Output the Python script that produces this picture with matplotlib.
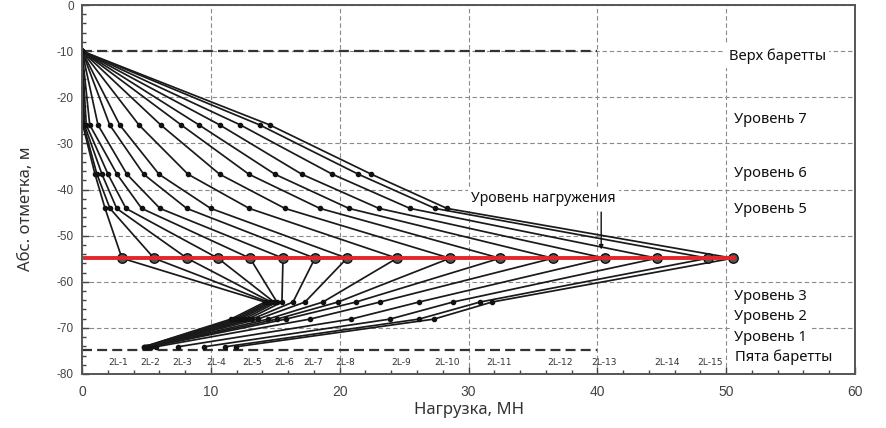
import matplotlib
matplotlib.use("Agg")
import matplotlib.pyplot as plt
from matplotlib.ticker import MultipleLocator

# ---------------- data ----------------
# elevations of the measuring levels (m): top, L7, L6, L5, load cell, L3, L2, L1
z_top = -10.0
z_l7 = -26.0
z_l6 = -36.7
z_l5 = -44.1
z_cell = -54.9
z_l3 = -64.4
z_l2 = -68.1
z_l1 = -74.1
z_toe = -74.8

# loads (MN) at each level for the 16 load steps
load_top = [0.0] * 16
load_l7 = [0.06, 0.12, 0.19, 0.33, 0.60, 1.24, 2.15, 2.93, 4.42, 6.11, 7.70, 9.08, 10.69, 12.29, 13.79, 14.57]
load_l6 = [1.01, 1.16, 1.55, 2.02, 2.72, 3.49, 4.79, 5.98, 8.23, 10.69, 12.96, 14.98, 17.07, 19.44, 21.46, 22.47]
load_l5 = [1.79, 2.17, 2.69, 3.41, 4.63, 6.05, 8.13, 9.99, 12.98, 15.75, 18.47, 20.72, 23.05, 25.46, 27.40, 28.33]
load_cell = [3.10, 5.59, 8.15, 10.55, 13.04, 15.60, 18.08, 20.57, 24.45, 28.56, 32.44, 36.55, 40.59, 44.63, 48.58, 50.52]
load_l3 = [14.20, 14.44, 14.67, 14.90, 15.13, 15.52, 16.38, 17.31, 18.70, 19.87, 21.26, 23.13, 26.15, 28.79, 30.89, 31.82]
load_l2 = [11.56, 11.80, 12.03, 12.26, 12.57, 12.88, 13.19, 13.66, 14.44, 15.13, 15.83, 17.69, 20.88, 23.90, 26.15, 27.32]
load_l1 = [4.81, 4.85, 4.89, 4.93, 4.97, 5.01, 5.04, 5.12, 5.20, 5.28, 5.36, 5.74, 7.45, 9.47, 11.10, 11.95]

step_labels = ["2L-1", "2L-2", "2L-3", "2L-4", "2L-5", "2L-6", "2L-7", "2L-8",
               "2L-9", "2L-10", "2L-11", "2L-12", "2L-13", "2L-14", "2L-15"]
label_shift = [-0.3, -0.3, -0.4, -0.15, 0.15, 0.1, -0.15, -0.15, 0.3, -0.2, -0.1, 0.55, -0.1, 0.75, 0.15]

level_names = ["Верх баретты", "Уровень 7", "Уровень 6", "Уровень 5",
               "Уровень 3", "Уровень 2", "Уровень 1", "Пята баретты"]
level_label_y = [-11.2, -24.9, -36.5, -44.3, -63.1, -67.5, -72.1, -76.3]

# ---------------- figure ----------------
plt.rcParams["axes.unicode_minus"] = False
fig = plt.figure(figsize=(8.86, 4.28), dpi=100)
ax = fig.add_axes([82 / 886, 1 - 374 / 428, (855 - 82) / 886, (374 - 5) / 428])

ax.set_xlim(0, 60)
ax.set_ylim(-80, 0)
ax.xaxis.set_major_locator(MultipleLocator(10))
ax.xaxis.set_minor_locator(MultipleLocator(2))
ax.yaxis.set_major_locator(MultipleLocator(10))
ax.yaxis.set_minor_locator(MultipleLocator(2))
ax.tick_params(which="major", direction="in", length=5, width=1.0, color="#444")
ax.tick_params(which="minor", direction="in", length=3, width=1.0, color="#444")
ax.tick_params(axis="x", which="major", labelsize=10, labelcolor="#444", pad=8)
ax.tick_params(axis="y", which="major", labelsize=8.5, labelcolor="#444", pad=6)
for lab in ax.get_xticklabels() + ax.get_yticklabels():
    lab.set_family("Liberation Sans")
for s in ax.spines.values():
    s.set_color("#555")
    s.set_linewidth(1.4)
    s.set_zorder(10)

ax.grid(which="major", color="#8a8a8a", lw=0.8, ls=(0, (4, 2.5)), zorder=0)

# top / toe of barrette
ax.plot([0, 40], [z_top, z_top], color="#333", lw=1.6, ls=(0, (4.5, 2.3)), zorder=2)
ax.plot([0, 40], [z_toe, z_toe], color="#333", lw=1.6, ls=(0, (4.5, 2.3)), zorder=2)

zs = [z_top, z_l7, z_l6, z_l5, z_cell, z_l3, z_l2, z_l1]
for i in range(len(load_cell)):
    xs = [load_top[i], load_l7[i], load_l6[i], load_l5[i], load_cell[i],
          load_l3[i], load_l2[i], load_l1[i]]
    ax.plot(xs, zs, color="#1a1a1a", lw=1.25, zorder=3, solid_joinstyle="round")
    mx = xs[:4] + xs[5:]
    mz = zs[:4] + zs[5:]
    ax.plot(mx, mz, ls="none", marker="o", ms=3.0, color="#111", zorder=4)

ax.plot(load_cell, [z_cell] * len(load_cell), ls="none", marker="o", ms=6.8,
        mfc="#555", mec="#111", mew=1.0, zorder=5)
ax.plot([0.2, max(load_cell)], [z_cell, z_cell], color="#e3262b", lw=2.8, zorder=6)

rus = ["Noto Sans", "DejaVu Sans"]

for i, lab in enumerate(step_labels):
    ax.text(load_cell[i] + label_shift[i], -77.5, lab, ha="center", va="center",
            fontsize=6.6, color="#333", family="Liberation Sans Narrow", zorder=7)

for i, (name, y) in enumerate(zip(level_names, level_label_y)):
    x0 = 50.2 if i == 0 else (50.7 if i == 7 else 50.6)
    kw = {}
    if name in ("Верх баретты", "Уровень 1"):
        kw["bbox"] = dict(fc="white", ec="none", pad=2.5)
    ax.text(x0, y, name, ha="left", va="center", fontsize=10.6, color="#111",
            family=rus, zorder=8, **kw)

ax.text(30.2, -41.9, "Уровень нагружения", ha="left", va="center", fontsize=10.2,
        color="#111", family=rus, zorder=8,
        bbox=dict(fc="white", ec="none", pad=2.5))
ax.annotate("", xy=(40.3, -53.6), xytext=(40.3, -44.3),
            arrowprops=dict(arrowstyle="-|>", color="#111", lw=1.0, mutation_scale=6),
            zorder=8)

ax.set_xlabel("Нагрузка, МН", fontsize=12, color="#333", family=rus, labelpad=2)
ax.set_ylabel("Абс. отметка, м", fontsize=12, color="#333", family=rus)
ax.yaxis.set_label_coords(-0.062, 0.447)

fig.savefig("out.png", dpi=100)
